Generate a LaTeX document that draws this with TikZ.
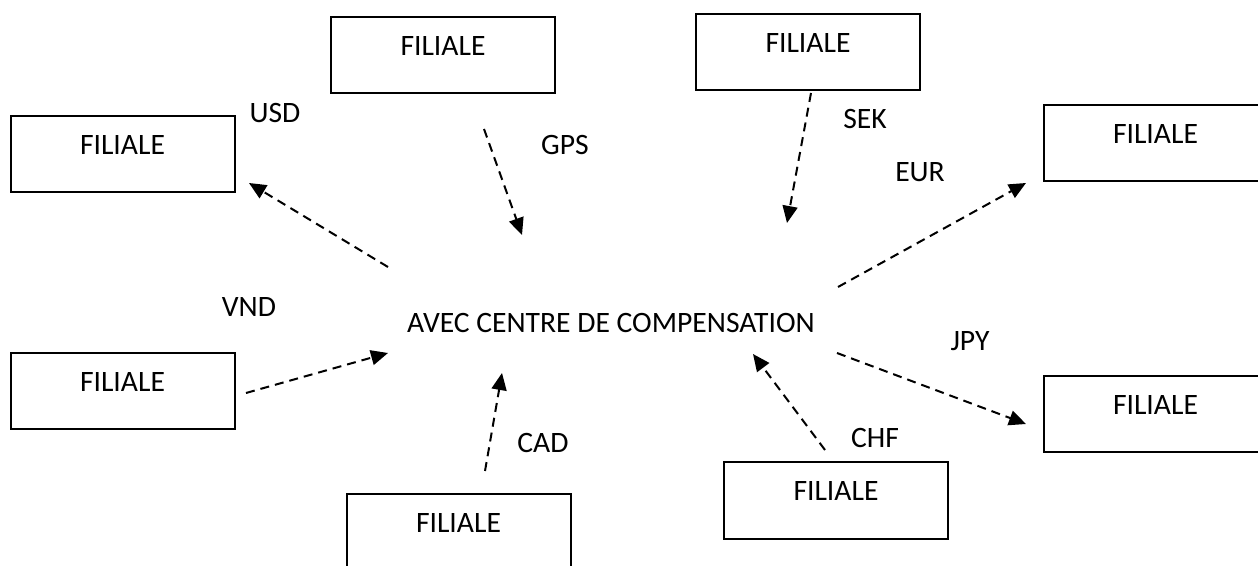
\documentclass[tikz,border=0pt]{standalone}
\usepackage{fontspec}
\setmainfont{Carlito}
\usetikzlibrary{arrows.meta}
\begin{document}
\begin{tikzpicture}[x=0.5pt,y=-0.5pt,
  ftext/.style={font=\fontsize{14.8}{17}\selectfont, inner sep=0pt},
  fbox/.style={draw, line width=1pt, minimum width=112pt, minimum height=38pt, inner sep=0pt,
    label={[ftext,anchor=center,yshift=-15pt]north:FILIALE}},
  flow/.style={line width=1pt, dash pattern=on 4.5pt off 3pt, -{Triangle[length=8.5pt,width=7.5pt]}}]
\path[use as bounding box, fill=white] (0,0) rectangle (1258,566);

% boxes
\node[fbox] (A) at (443,55) {};
\node[fbox] (B) at (808,52) {};
\node[fbox] (C) at (122.5,154) {};
\node[fbox] (D) at (1155.5,143.5) {};
\node[fbox] (E) at (122.5,391) {};
\node[fbox] (F) at (1155.5,414.5) {};
\node[fbox] (G) at (458.5,532) {};
\node[fbox] (H) at (836,500.5) {};

% centre
\node[ftext] (centre) at (611,323) {AVEC CENTRE DE COMPENSATION};

% currency labels
\node[ftext] (usd) at (275,113) {USD};
\node[ftext] (gps) at (565,145) {GPS};
\node[ftext] (sek) at (865,119) {SEK};
\node[ftext] (eur) at (920,172) {EUR};
\node[ftext] (vnd) at (249,307) {VND};
\node[ftext] (cad) at (543,443) {CAD};
\node[ftext] (jpy) at (970,341) {JPY};
\node[ftext] (chf) at (875,438) {CHF};

% arrow end points
\coordinate (usdS) at (388,267);  \coordinate (usdE) at (249,183);
\coordinate (gpsS) at (484,129);  \coordinate (gpsE) at (522,235);
\coordinate (sekS) at (811,93);   \coordinate (sekE) at (787,223);
\coordinate (eurS) at (838,287);  \coordinate (eurE) at (1026,183);
\coordinate (vndS) at (246,393);  \coordinate (vndE) at (388,353);
\coordinate (cadS) at (485,471);  \coordinate (cadE) at (502,373);
\coordinate (jpyS) at (837,353);  \coordinate (jpyE) at (1026,424);
\coordinate (chfS) at (825,450);  \coordinate (chfE) at (753,354);

\draw[flow] (usdS) -- (usdE);
\draw[flow] (gpsS) -- (gpsE);
\draw[flow] (sekS) -- (sekE);
\draw[flow] (eurS) -- (eurE);
\draw[flow] (vndS) -- (vndE);
\draw[flow] (cadS) -- (cadE);
\draw[flow] (jpyS) -- (jpyE);
\draw[flow] (chfS) -- (chfE);
\end{tikzpicture}
\end{document}
